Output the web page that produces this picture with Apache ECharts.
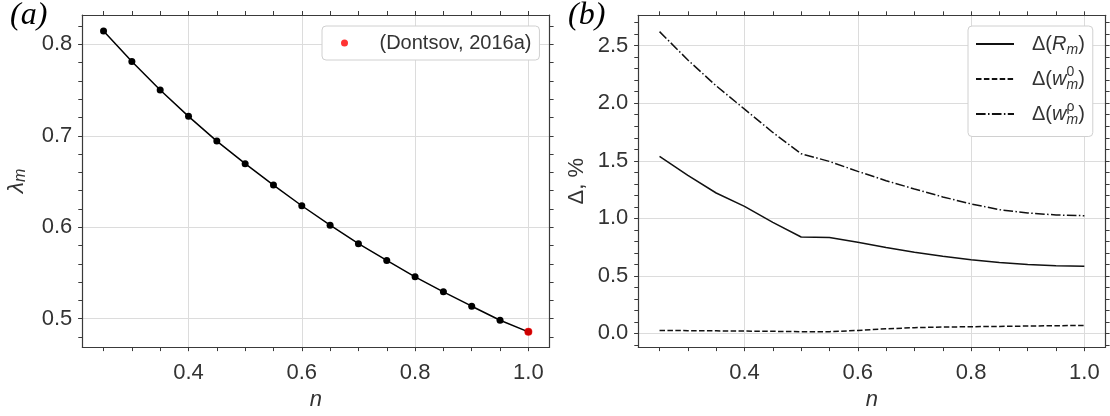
<!DOCTYPE html>
<html><head><meta charset="utf-8">
<script src="https://cdn.jsdelivr.net/npm/echarts@6/dist/echarts.min.js"></script>
<style>html,body{margin:0;padding:0;background:#fff}#c{width:1110px;height:416px}</style>
</head><body><div id="c"></div>
<script>
// ---------- data ----------
const nValues   = [0.25,0.30,0.35,0.40,0.45,0.50,0.55,0.60,0.65,0.70,0.75,0.80,0.85,0.90,0.95,1.00];
const lambdaM   = [0.8146,0.7811,0.7500,0.7212,0.6942,0.6695,0.6461,0.6235,0.6023,0.5820,0.5637,0.5458,0.5294,0.5137,0.4984,0.4857];
const dontsovN      = [1.00];
const dontsovLambda = [0.4857];
const deltaR    = [1.538,1.373,1.220,1.104,0.965,0.838,0.833,0.792,0.746,0.705,0.671,0.639,0.616,0.598,0.587,0.584];
const deltaW0   = [0.026,0.024,0.022,0.020,0.018,0.015,0.015,0.026,0.040,0.050,0.055,0.058,0.061,0.064,0.067,0.069];
const deltaWrho = [2.622,2.376,2.151,1.949,1.746,1.561,1.494,1.408,1.327,1.255,1.186,1.125,1.075,1.047,1.029,1.023];
// ---------- ticks ----------
const xMajor      = [0.4,0.6,0.8,1.0];
const xMinor      = [0.25,0.30,0.35,0.40,0.45,0.50,0.55,0.60,0.65,0.70,0.75,0.80,0.85,0.90,0.95,1.00];
const yLeftMajor  = [0.5,0.6,0.7,0.8];
const yLeftMinor  = [0.48,0.50,0.52,0.54,0.56,0.58,0.60,0.62,0.64,0.66,0.68,0.70,0.72,0.74,0.76,0.78,0.80,0.82];
const yRightMajor = [0.0,0.5,1.0,1.5,2.0,2.5];
const yRightMinor = [-0.1,0.0,0.1,0.2,0.3,0.4,0.5,0.6,0.7,0.8,0.9,1.0,1.1,1.2,1.3,1.4,1.5,1.6,1.7,1.8,1.9,2.0,2.1,2.2,2.3,2.4,2.5,2.6,2.7];

const pairs = (xs, ys) => xs.map((x, i) => [x, ys[i]]);

const AX = '#3a3a3a';
const GRIDC = '#dcdcdc';
const FONT = 'Liberation Sans';
const TICKLEN = 4;

function axesFor(dim, gi, min, max, major, minor, name, nameGap, nameRich) {
  const mainPos = dim === 'x' ? 'bottom' : 'left';
  const oppPos  = dim === 'x' ? 'top' : 'right';
  const main = {
    gridIndex: gi, type: 'value', position: mainPos, min, max,
    axisLine: { show: true, onZero: false, lineStyle: { color: AX, width: 1.2 } },
    axisTick: { show: true, customValues: major, length: TICKLEN, lineStyle: { color: AX, width: 1 } },
    axisLabel: { show: true, customValues: major, formatter: v => v.toFixed(1),
      fontFamily: FONT, fontSize: 22, color: '#333', margin: dim === 'x' ? 15 : 10 },
    splitLine: { show: true, lineStyle: { color: GRIDC, width: 1 } },
    name: name, nameLocation: 'middle', nameGap: nameGap,
    nameTextStyle: nameRich
  };
  const minorAx = {
    gridIndex: gi, type: 'value', position: mainPos, min, max,
    axisLine: { show: false, onZero: false },
    axisTick: { show: true, customValues: minor, length: TICKLEN, lineStyle: { color: AX, width: 1 } },
    axisLabel: { show: false }, splitLine: { show: false }
  };
  const opp = {
    gridIndex: gi, type: 'value', position: oppPos, min, max,
    axisLine: { show: true, onZero: false, lineStyle: { color: AX, width: 1.2 } },
    axisTick: { show: true, customValues: minor, length: TICKLEN, lineStyle: { color: AX, width: 1 } },
    axisLabel: { show: false }, splitLine: { show: false }
  };
  return [main, minorAx, opp];
}

const nName = { fontFamily: FONT, fontSize: 22, fontStyle: 'italic', color: '#333' };
const xLeft  = axesFor('x', 0, 0.2125, 1.0375, xMajor, xMinor, 'n', 32, nName);
const xRight = axesFor('x', 1, 0.2125, 1.0375, xMajor, xMinor, 'n', 32, nName);
const yLeft  = axesFor('y', 0, 0.469, 0.832, yLeftMajor, yLeftMinor, '{g|λ}{s|m}', 54, {
  color: '#333',
  rich: {
    g: { fontFamily: FONT, fontSize: 23, fontStyle: 'italic', color: '#333', verticalAlign: 'bottom' },
    s: { fontFamily: FONT, fontSize: 16, fontStyle: 'italic', color: '#333', verticalAlign: 'bottom' }
  }
});
const yRight = axesFor('y', 1, -0.119, 2.764, yRightMajor, yRightMinor, 'Δ, %', 50,
  { fontFamily: FONT, fontSize: 22, color: '#333' });

const legendNames = {
  R:   '{n|Δ(}{i|R}{sub|m}{n|)}',
  w0:  '{n|Δ(}{i|w}{sup|0}{sub|m}{n|)}',
  wr:  '{n|Δ(}{i|w}{sup|ρ}{sub|m}{n|)}'
};

const LINEC = '#111';
const option = {
  animation: false,
  backgroundColor: '#fff',
  title: [
    { text: '(a)', left: 10, top: 0, padding: 0,
      textStyle: { fontFamily: 'Liberation Serif', fontStyle: 'italic', fontWeight: 'normal', fontSize: 32, color: '#000' } },
    { text: '(b)', left: 568, top: 0, padding: 0,
      textStyle: { fontFamily: 'Liberation Serif', fontStyle: 'italic', fontWeight: 'normal', fontSize: 32, color: '#000' } }
  ],
  grid: [
    { left: 82.3, top: 15, right: 560.4, bottom: 67.7, show: false },
    { left: 638.3, top: 15.3, right: 4.4, bottom: 68.3, show: false }
  ],
  xAxis: [...xLeft, ...xRight],
  yAxis: [...yLeft, ...yRight],
  legend: [
    { data: ['(Dontsov, 2016a)'], left: 322, top: 26, orient: 'vertical',
      padding: [7, 8, 7, 19], itemWidth: 16, itemHeight: 7, icon: 'circle',
      backgroundColor: '#fff', borderColor: '#d0d0d0', borderWidth: 1, borderRadius: 4,
      textStyle: { fontFamily: FONT, fontSize: 20, color: '#333', padding: [0, 0, 0, 22] } },
    { data: ['R', 'w0', 'wr'], left: 968, top: 26, orient: 'vertical',
      padding: [8, 8, 9, 7], itemWidth: 38, itemHeight: 14, itemGap: 8,
      itemStyle: { opacity: 0 },
      backgroundColor: '#fff', borderColor: '#d0d0d0', borderWidth: 1, borderRadius: 4,
      formatter: name => legendNames[name],
      textStyle: { color: '#333', padding: [0, 0, 0, 13],
        rich: {
          n:   { fontFamily: FONT, fontSize: 20, color: '#333', lineHeight: 27 },
          i:   { fontFamily: FONT, fontSize: 20, fontStyle: 'italic', color: '#333', lineHeight: 27 },
          sub: { fontFamily: FONT, fontSize: 14, fontStyle: 'italic', color: '#333', verticalAlign: 'bottom', lineHeight: 27 },
          sup: { fontFamily: FONT, fontSize: 14, color: '#333', verticalAlign: 'top', lineHeight: 27, width: 0.01 }
        } } }
  ],
  series: [
    { name: 'lambda', type: 'line', xAxisIndex: 0, yAxisIndex: 0,
      data: pairs(nValues, lambdaM), symbol: 'circle', symbolSize: 7,
      itemStyle: { color: '#000' }, lineStyle: { color: '#000', width: 1.5 }, z: 3 },
    { name: '(Dontsov, 2016a)', type: 'scatter', xAxisIndex: 0, yAxisIndex: 0,
      data: pairs(dontsovN, dontsovLambda), symbol: 'circle', symbolSize: 8,
      itemStyle: { color: '#ff0000' }, z: 5 },
    { name: 'R', type: 'line', xAxisIndex: 3, yAxisIndex: 3, data: pairs(nValues, deltaR),
      symbol: 'none', lineStyle: { color: LINEC, width: 1.5, type: 'solid' }, itemStyle: { color: LINEC } },
    { name: 'w0', type: 'line', xAxisIndex: 3, yAxisIndex: 3, data: pairs(nValues, deltaW0),
      symbol: 'none', lineStyle: { color: LINEC, width: 1.5, type: [5.5, 2.4] }, itemStyle: { color: LINEC } },
    { name: 'wr', type: 'line', xAxisIndex: 3, yAxisIndex: 3, data: pairs(nValues, deltaWrho),
      symbol: 'none', lineStyle: { color: LINEC, width: 1.5, type: [9.6, 2.4, 1.5, 2.4] }, itemStyle: { color: LINEC } }
  ]
};
const chart = echarts.init(document.getElementById('c'), null, { renderer: 'canvas' });
chart.setOption(option);
</script></body></html>
